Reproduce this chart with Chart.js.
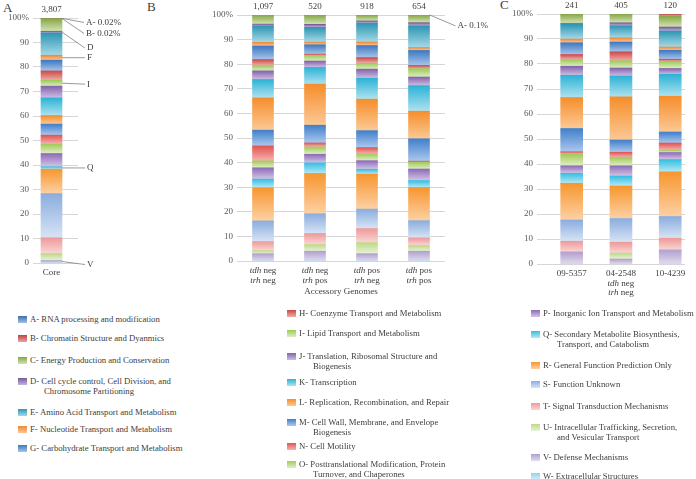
<!DOCTYPE html>
<html>
<head>
<meta charset="utf-8">
<script src="https://cdn.jsdelivr.net/npm/chart.js@4.4.1/dist/chart.umd.min.js"></script>
<style>
  body { margin: 0; background: #fff; width: 696px; height: 479px; position: relative; overflow: hidden;
         font-family: "Liberation Serif", "Times New Roman", serif; color: #404040; }
  canvas { position: absolute; top: 0; }
  .letter { position: absolute; font-size: 13px; line-height: 14px; }
  .lg { position: absolute; font-size: 8.7px; line-height: 10.5px; white-space: nowrap; }
  .lg .sw { position: absolute; left: -12px; top: 2px; width: 9px; height: 7px; }
  .lg .ind { padding-left: 14px; }
</style>
</head>
<body>
<div class="letter" style="left:3px;top:1px">A</div>
<div class="letter" style="left:147px;top:0px">B</div>
<div class="letter" style="left:500px;top:-2px">C</div>
<canvas id="coreChart" width="140" height="290" style="left:0px"></canvas>
<canvas id="accChart" width="360" height="310" style="left:140px"></canvas>
<canvas id="strainChart" width="236" height="310" style="left:460px"></canvas>
<div id="legend"></div>

<script>
// COG categories
const cogCodes = ['A','B','C','D','E','F','G','H','I','J','K','L','M','N','O','P','Q','R','S','T','U','V','W'];
const cogNames = [
  'A- RNA processing and modification',
  'B- Chromatin Structure and Dyanmics',
  'C- Energy Production and Conservation',
  'D- Cell cycle control, Cell Division, and\nChromosome Partitioning',
  'E- Amino Acid Transport and Metabolism',
  'F- Nucleotide Transport and Metabolism',
  'G- Carbohydrate Transport and Metabolism',
  'H- Coenzyme Transport and Metabolism',
  'I- Lipid Transport and Metabolism',
  'J- Translation, Ribosomal Structure and\nBiogenesis',
  'K- Transcription',
  'L- Replication, Recombination, and Repair',
  'M- Cell Wall, Membrane, and Envelope\nBiogenesis',
  'N- Cell Motility',
  'O- Posttranslational Modification, Protein\nTurnover, and Chaperones',
  'P- Inorganic Ion Transport and Metabolism',
  'Q- Secondary Metabolite Biosynthesis,\nTransport, and Catabolism',
  'R- General Function Prediction Only',
  'S- Function Unknown',
  'T- Signal Transduction Mechanisms',
  'U- Intracellular Trafficking, Secretion,\nand Vesicular Transport',
  'V- Defense Mechanisms',
  'W- Extracellular Structures'
];

// panel A - core genome (% per category, A..W)
const coreCounts = ['3,807'];
const coreLabels = [['Core']];
const coreValues = [0.02, 0.02, 5.2, 0.7, 9.1, 2.0, 4.4, 3.8, 2.4, 4.8, 7.2, 3.5, 4.5, 3.7, 3.8, 5.4, 1.0, 10.0, 18.0, 6.4, 2.9, 1.0, 0];

// panel B - accessory genomes
const accCounts = ['1,097', '520', '918', '654'];
const accLabels = [['tdh neg', 'trh neg'], ['tdh neg', 'trh pos'], ['tdh pos', 'trh neg'], ['tdh pos', 'trh pos']];
const accNegNeg = [0, 0, 3.7, 0.7, 6.7, 1.5, 5.5, 2.4, 2.2, 3.5, 7.5, 13.1, 6.4, 6.1, 2.8, 4.6, 3.5, 13.5, 8.4, 3.7, 1.2, 3.0, 0];
const accNegPos = [0, 0, 3.8, 1.2, 6.0, 1.1, 3.8, 0.5, 2.3, 2.6, 6.8, 16.7, 7.2, 1.6, 3.0, 3.5, 4.3, 16.4, 8.0, 4.5, 2.7, 4.0, 0];
const accPosNeg = [0, 0, 2.4, 0.9, 7.7, 1.4, 4.9, 2.3, 2.4, 3.7, 8.5, 12.8, 6.9, 2.6, 2.7, 3.5, 2.0, 14.2, 7.9, 5.7, 4.5, 3.0, 0];
const accPosPos = [0.1, 0, 3.1, 1.3, 8.8, 1.2, 6.1, 1.3, 3.4, 3.5, 10.4, 11.2, 9.1, 0.5, 2.7, 4.7, 2.8, 13.5, 7.0, 3.1, 2.3, 4.0, 0];

// panel C - single strains
const strainCounts = ['241', '405', '120'];
const strainLabels = [['09-5357'], ['04-2548', 'tdh neg', 'trh neg'], ['10-4239']];
const strain095357 = [0, 0, 3.7, 0.4, 5.9, 1.5, 4.7, 2.0, 2.7, 3.6, 8.9, 12.4, 9.3, 0.9, 4.7, 3.0, 4.0, 14.7, 8.5, 4.3, 0, 4.8, 0];
const strain042548 = [0, 0, 3.5, 1.2, 4.8, 1.7, 3.9, 3.6, 2.9, 3.2, 8.3, 17.3, 4.9, 2.0, 3.4, 4.1, 4.0, 13.0, 9.5, 4.3, 2.4, 2.0, 0];
const strain104239 = [0, 0.8, 4.4, 1.6, 6.4, 1.3, 3.6, 0.8, 2.9, 2.3, 8.8, 14.3, 4.4, 2.9, 0.9, 2.8, 4.9, 17.9, 8.7, 4.7, 0, 5.6, 0];

// gradient colours per category [top, bottom]
const cogColors = {
  A: ['#3f6fae', '#a3bfe3'], B: ['#b94643', '#eba3a1'], C: ['#86a648', '#d3e4b0'], D: ['#76599c', '#c4b5da'],
  E: ['#2e96b3', '#a6d9e7'], F: ['#ee8a35', '#f9c69d'], G: ['#3e79c0', '#a8c4ea'], H: ['#cc4b48', '#f0acaa'],
  I: ['#9ccb58', '#ddeec3'], J: ['#8363ad', '#cdbfe2'], K: ['#2cb3d6', '#afe2f0'], L: ['#f58e2b', '#fcc995'],
  M: ['#4180ca', '#abc8ee'], N: ['#df5552', '#f6b3b1'], O: ['#a3c95c', '#e0efc6'], P: ['#8d6cb8', '#d3c5e6'],
  Q: ['#35bfe0', '#b6e8f4'], R: ['#f7962f', '#fdd1a4'], S: ['#8badde', '#d7e4f5'], T: ['#ee9a99', '#fad6d5'],
  U: ['#bcd987', '#e9f3d6'], V: ['#b1a0cf', '#e2dbee'], W: ['#93d3e6', '#d8eff7']
};

const serif = '"Liberation Serif", "Times New Roman", serif';

function segFill(ctx) {
  const chart = ctx.chart;
  const col = cogColors[chart.data.datasets[ctx.datasetIndex].label];
  if (!chart.chartArea || ctx.type !== 'data') return col[0];
  const i = ctx.dataIndex;
  let base = 0;
  for (let k = 0; k < ctx.datasetIndex; k++) base += chart.data.datasets[k].data[i].y;
  const v = chart.data.datasets[ctx.datasetIndex].data[i].y;
  const top = chart.scales.y.getPixelForValue(base + v);
  const bot = chart.scales.y.getPixelForValue(base);
  if (!(bot - top > 0.5)) return col[0];
  const g = chart.ctx.createLinearGradient(0, top, 0, bot);
  g.addColorStop(0, col[0]);
  g.addColorStop(1, col[1]);
  return g;
}

function makeDatasets(bars, thickness) {
  return cogCodes.map((code, j) => ({
    label: code,
    data: bars.map((b, i) => ({ x: i, y: b[j] })),
    backgroundColor: segFill,
    borderWidth: 0,
    barThickness: thickness
  })).reverse(); // A ends up on top of the stack
}

// label line like 'tdh neg' -> gene name in italics
function drawLabelLine(c, line, cx, y) {
  const m = line.match(/^(tdh|trh)( .*)$/);
  c.font = '9px ' + serif;
  if (!m) { c.textAlign = 'center'; c.fillText(line, cx, y); return; }
  c.font = 'italic 9px ' + serif;
  const wi = c.measureText(m[1]).width;
  c.font = '9px ' + serif;
  const wr = c.measureText(m[2]).width;
  const x0 = cx - (wi + wr) / 2;
  c.textAlign = 'left';
  c.font = 'italic 9px ' + serif;
  c.fillText(m[1], x0, y);
  c.font = '9px ' + serif;
  c.fillText(m[2], x0 + wi, y);
}

const panelText = {
  id: 'panelText',
  afterDatasetsDraw(chart, args, o) {
    const c = chart.ctx, area = chart.chartArea;
    c.save();
    c.fillStyle = '#404040';
    c.textBaseline = 'middle';
    const pts = chart.data.datasets[0].data;
    pts.forEach((p, i) => {
      const x = chart.scales.x.getPixelForValue(p.x);
      c.font = '9px ' + serif;
      c.textAlign = 'center';
      c.fillText(o.counts[i], x, area.top - 8);
      o.labels[i].forEach((line, k) => drawLabelLine(c, line, x, area.bottom + 10 + k * 9.5));
    });
    if (o.title) {
      c.font = '9px ' + serif;
      c.textAlign = 'center';
      c.fillText(o.title, (area.left + area.right) / 2, area.bottom + 31);
    }
    (o.callouts || []).forEach(a => {
      const di = chart.data.datasets.findIndex(d => d.label === a.code);
      const el = chart.getDatasetMeta(di).data[a.bar];
      const x0 = el.x + el.width / 2;
      const y0 = (el.y + el.base) / 2;
      const tx = x0 + a.dx, ty = y0 + a.dy;
      c.strokeStyle = '#808080';
      c.lineWidth = 0.8;
      c.beginPath();
      c.moveTo(x0, y0);
      c.lineTo(tx - 2, ty);
      c.stroke();
      c.font = '9px ' + serif;
      c.textAlign = 'left';
      c.fillText(a.text, tx, ty);
    });
    c.restore();
  }
};

function drawPanel(id, bars, o) {
  new Chart(document.getElementById(id), {
    type: 'bar',
    data: { datasets: makeDatasets(bars, o.thickness) },
    options: {
      responsive: false,
      animation: false,
      layout: { padding: o.pad },
      plugins: {
        legend: { display: false },
        tooltip: { enabled: false },
        panelText: o.text
      },
      scales: {
        x: { type: 'linear', display: false, offset: false, stacked: true, min: o.xmin, max: o.xmax },
        y: {
          stacked: true, min: 0, max: 100,
          afterFit: s => { s.width = o.axisW; },
          border: { display: false },
          grid: { color: '#d6d6d6', drawTicks: false, lineWidth: 1 },
          ticks: {
            stepSize: 10, padding: 4, color: '#595959',
            font: { family: serif, size: 9 },
            callback: v => (v === 100 ? '100%' : v)
          }
        }
      }
    },
    plugins: [panelText]
  });
}

drawPanel('coreChart', [coreValues], {
  thickness: 21, axisW: 33, xmin: -18.5, xmax: 26.5,
  pad: { top: 18, bottom: 27, right: 62, left: 0 },
  text: {
    counts: coreCounts, labels: coreLabels,
    callouts: [
      { code: 'A', bar: 0, text: 'A- 0.02%', dx: 24, dy: 4 },
      { code: 'B', bar: 0, text: 'B- 0.02%', dx: 24, dy: 15 },
      { code: 'D', bar: 0, text: 'D', dx: 25, dy: 16 },
      { code: 'F', bar: 0, text: 'F', dx: 25, dy: 0 },
      { code: 'I', bar: 0, text: 'I', dx: 25, dy: 1 },
      { code: 'Q', bar: 0, text: 'Q', dx: 25, dy: 0 },
      { code: 'V', bar: 0, text: 'V', dx: 25, dy: 3 }
    ]
  }
});

drawPanel('accChart', [accNegNeg, accNegPos, accPosNeg, accPosPos], {
  thickness: 21, axisW: 97, xmin: -0.5, xmax: 3.5,
  pad: { top: 15, bottom: 49, right: 55, left: 0 },
  text: {
    counts: accCounts, labels: accLabels, title: 'Accessory Genomes',
    callouts: [{ code: 'A', bar: 3, text: 'A- 0.1%', dx: 28, dy: 11 }]
  }
});

drawPanel('strainChart', [strain095357, strain042548, strain104239], {
  thickness: 22, axisW: 77, xmin: -0.704, xmax: 2.3,
  pad: { top: 14, bottom: 46, right: 11, left: 0 },
  text: { counts: strainCounts, labels: strainLabels }
});

// legend, three columns
const legendCol = [30, 299, 543];
const legendMid = [319, 338, 360, 381, 412, 429, 448,
                   313, 333, 356, 382, 402, 422, 446, 464,
                   313, 334, 365, 384, 406, 427, 457, 476];
const legend = document.getElementById('legend');
cogCodes.forEach((code, j) => {
  const col = j < 7 ? 0 : (j < 15 ? 1 : 2);
  const lines = cogNames[j].split('\n');
  const d = document.createElement('div');
  d.className = 'lg';
  d.style.left = legendCol[col] + 'px';
  d.style.top = (legendMid[j] - 5.5) + 'px';
  const c = cogColors[code];
  d.innerHTML = '<span class="sw" style="background:linear-gradient(' + c[0] + ',' + c[1] + ')"></span>' +
    lines[0] + (lines[1] ? '<br><span class="ind">' + lines[1] + '</span>' : '');
  legend.appendChild(d);
});
</script>
</body>
</html>
